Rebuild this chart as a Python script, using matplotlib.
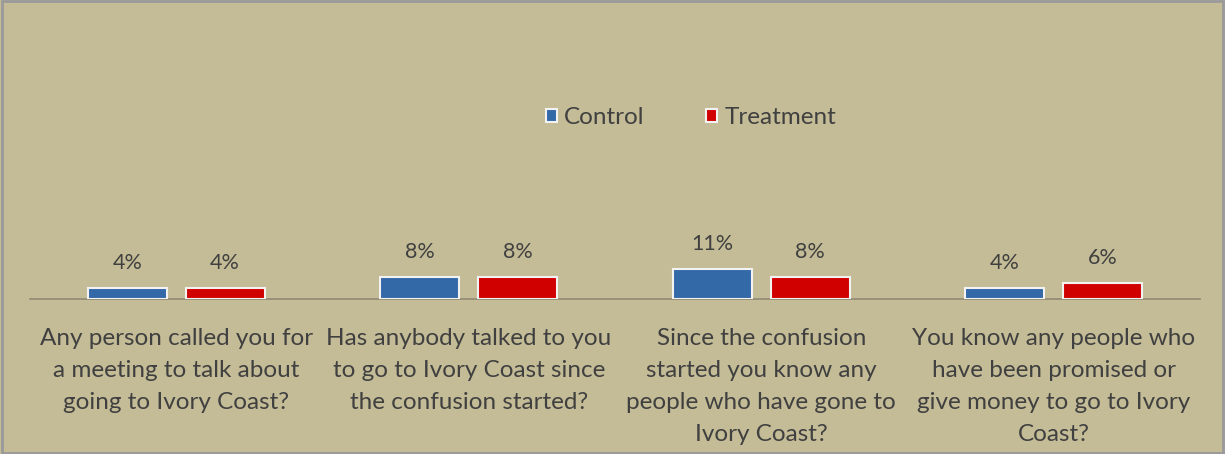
import matplotlib
matplotlib.use("Agg")
import matplotlib.pyplot as plt
import numpy as np
from matplotlib.patches import Rectangle

categories = [
    "Any person called you for\na meeting to talk about\ngoing to Ivory Coast?",
    "Has anybody talked to you\nto go to Ivory Coast since\nthe confusion started?",
    "Since the confusion\nstarted you know any\npeople who have gone to\nIvory Coast?",
    "You know any people who\nhave been promised or\ngive money to go to Ivory\nCoast?",
]
control = [4, 8, 11, 4]
treatment = [4, 8, 8, 6]
series_names = ["Control", "Treatment"]

bg = "#C4BC96"
txt = "#404040"
blue = "#3469A8"
red = "#D00000"

plt.rcParams['font.family'] = ['Lato', 'DejaVu Sans']

fig = plt.figure(figsize=(12.25, 4.54), dpi=100)
fig.patch.set_facecolor(bg)
ax = fig.add_axes([30/1225, 155/454, 1170/1225, 269/454])
ax.set_facecolor(bg)

x = np.arange(len(categories))
w = 0.27
off = 0.167
b1 = ax.bar(x - off, control, w, color=blue, edgecolor="#F2F2F2", linewidth=1.5, label=series_names[0], zorder=3)
b2 = ax.bar(x + off, treatment, w, color=red, edgecolor="#F2F2F2", linewidth=1.5, label=series_names[1], zorder=3)

for bars, vals in ((b1, control), (b2, treatment)):
    for r, v in zip(bars, vals):
        ax.annotate(f"{v}%", (r.get_x() + r.get_width()/2, v), xytext=(0, 11),
                    textcoords="offset points", ha="center", va="bottom",
                    fontsize=15.5, color=txt)

ax.set_xlim(-0.5, len(categories) - 0.5)
ax.set_ylim(0, 100)
ax.set_yticks([])
ax.set_xticks(x)
ax.set_xticklabels(categories, fontsize=17.5, color=txt, linespacing=1.65)
ax.tick_params(axis='x', length=0, pad=21)
for s in ("top", "left", "right"):
    ax.spines[s].set_visible(False)
ax.spines["bottom"].set_color("#8E8A74")
ax.spines["bottom"].set_linewidth(1.2)

leg = fig.legend(handles=[b1, b2], labels=series_names, loc="center",
                 bbox_to_anchor=(691/1225, 1 - 118/454), ncol=2, frameon=False,
                 fontsize=17.5, handlelength=0.45, handleheight=0.45, handletextpad=0.3,
                 columnspacing=2.55, labelcolor=txt)

fig.patches.append(Rectangle((0.002, 0.003), 0.996, 0.994, transform=fig.transFigure,
                             fill=False, edgecolor="#9A9A9A", linewidth=2))

fig.savefig("out.png", dpi=100, facecolor=bg)
